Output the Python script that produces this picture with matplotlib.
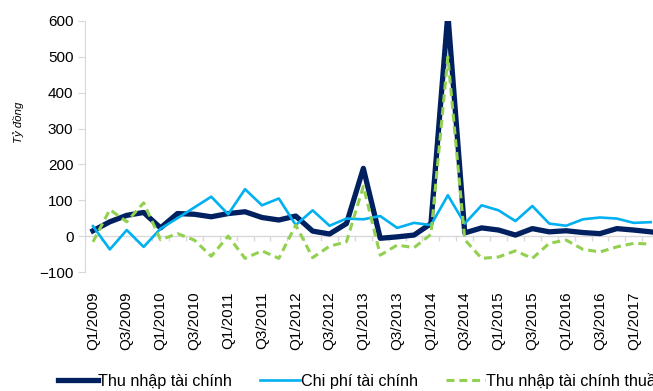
import matplotlib
matplotlib.use("Agg")
import matplotlib.pyplot as plt
import numpy as np

plt.rcParams['font.family'] = ['Liberation Sans', 'DejaVu Sans']

# Quarterly figures, Q1/2009 .. Q2/2017 (tỷ đồng)
quarters = [f"Q{q}/{y}" for y in range(2009, 2018) for q in (1, 2, 3, 4)][:34]

thu_nhap = [15, 40, 58, 66, 23, 63, 61, 54, 63, 68, 52, 45, 56, 14, 6, 35,
            189, -6, -2, 3, 35, 620, 9, 23, 17, 3, 21, 12, 15, 10, 7, 21, 17, 12]
chi_phi = [28, -37, 17, -30, 21, 50, 80, 110, 61, 131, 86, 105, 31, 72, 29, 49,
           47, 56, 23, 37, 31, 114, 35, 86, 72, 42, 84, 35, 29, 47, 52, 49, 37, 39]
thu_nhap_thuan = [-16, 74, 40, 93, -10, 7, -11, -56, 0, -62, -41, -62, 31, -60, -28, -16,
                  139, -53, -25, -32, 5, 500, -10, -62, -58, -41, -62, -20, -11, -37, -44, -30, -20, -22]

x = np.arange(len(quarters))

fig = plt.figure(figsize=(6.53, 3.91), dpi=100)
# axes run past the right edge, so the last quarters are cut off
ax = fig.add_axes([84.5 / 653, 1 - 272 / 391, (676 - 84.5) / 653, (272 - 21) / 391])

ax.plot(x, thu_nhap, color='#002060', lw=3.8, label='Thu nhập tài chính', zorder=3)
ax.plot(x, chi_phi, color='#00b0f0', lw=1.9, label='Chi phí tài chính', zorder=4)
ax.plot(x, thu_nhap_thuan, color='#92d050', lw=2.2, dashes=(2.6, 1.6),
        label='Thu nhập tài chính thuần', zorder=5)

ax.set_xlim(-0.5, 34.5)
ax.set_ylim(-100, 600)
ax.set_yticks(range(-100, 601, 100))

# category axis sits at zero, labels stay at the bottom
ax.axhline(0, color='#d9d9d9', lw=1.0, zorder=1)
ax.vlines(np.arange(len(quarters) + 1) - 0.5, -14, 0, color='#d9d9d9', lw=1.0, zorder=1)

ax.set_xticks(x[::2])
ax.set_xticklabels(quarters[::2], rotation=90, fontsize=11, va='top')
ax.tick_params(axis='x', length=0, pad=14)
ax.tick_params(axis='y', length=5, color='#d9d9d9', labelsize=11, pad=3)

for s in ('top', 'right', 'bottom'):
    ax.spines[s].set_visible(False)
ax.spines['left'].set_color('#d9d9d9')

fig.text(18 / 653, 1 - 122 / 391, 'Tỷ đồng', rotation=90, style='italic',
         fontsize=8.2, ha='center', va='center')

ax.legend(loc='center left', bbox_to_anchor=(50 / 653, 1 - 381 / 391),
          bbox_transform=fig.transFigure, ncol=3, frameon=False, fontsize=11.6,
          handlelength=2.45, handletextpad=0.05, columnspacing=1.75, borderpad=0)

fig.savefig('out.png', dpi=100)
